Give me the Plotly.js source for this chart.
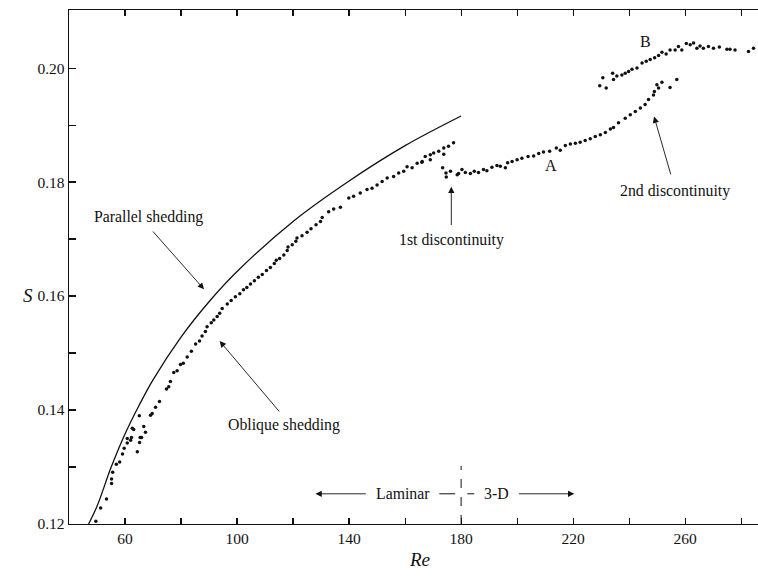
<!DOCTYPE html>
<html>
<head>
<meta charset="utf-8">
<script src="https://cdn.plot.ly/plotly-3.0.1.min.js"></script>
<style>html,body{margin:0;padding:0;background:#fff;}#chart{width:758px;height:577px;}</style>
</head>
<body>
<div id="chart"></div>
<script>
// Parallel shedding curve
var reParallel = [47.0, 50, 55, 60, 65, 70, 80, 90, 100, 120, 140, 160, 180];
var sParallel  = [0.1200, 0.1231, 0.1299, 0.1358, 0.1408, 0.1453, 0.1528, 0.1590, 0.1643, 0.1731, 0.1802, 0.1864, 0.1916];

// Measured points: oblique shedding and the branch after the 1st discontinuity
var reLower = [49.2, 49.4, 49.6, 51.3, 53.4, 55.2, 55.2, 55.6, 56.9, 58.1, 59.1, 59.7, 60.8, 60.8, 62.0, 62.3, 62.6, 63.1, 64.4, 65.1, 65.2, 65.4, 65.9, 66.7, 67.3, 69.1, 69.7, 70.9, 72.3, 74.8, 75.6, 76.2, 77.4, 78.6, 79.8, 80.8, 82.2, 83.7, 85.2, 86.6, 87.5, 88.7, 89.3, 90.8, 91.7, 92.9, 93.8,
  94.7, 96.5, 97.9, 99.4, 101.0, 102.3, 103.5, 104.8, 106.2, 107.6, 109.0, 110.5, 111.9, 113.3, 114.0, 115.2, 116.7, 117.9, 118.2, 119.7, 121.0, 121.4, 123.2, 125.0, 126.4, 128.2, 129.8,
  130.4, 132.7, 134.5, 136.9, 139.9, 141.6, 144.0, 146.4, 148.2, 150.0, 151.8, 153.6, 155.9, 157.7, 159.5, 160.7, 162.5, 164.3, 166.1, 166.0, 167.2, 169.0, 169.0, 170.2, 172.0, 173.8, 173.8, 175.5, 177.3,
  173.4, 174.6, 174.7, 176.2, 178.6, 179.1, 180.3, 181.5, 183.3, 184.7, 186.2, 188.0, 189.2, 191.0, 192.8, 194.0, 195.8, 196.6, 198.2, 200.0, 201.7, 203.9, 205.9, 207.7, 209.4, 211.6, 214.0, 215.4, 217.2, 219.0, 220.8, 222.5, 224.3, 226.1, 227.9, 229.7, 231.5, 233.3, 234.4, 236.2, 238.6, 240.4, 242.2, 244.0, 245.7, 246.9, 248.7, 249.0, 249.9, 250.5, 251.7, 254.6, 257.0];
var sLower = [0.1182, 0.1198, 0.1205, 0.1228, 0.1244, 0.1271, 0.1279, 0.1291, 0.1305, 0.1309, 0.1323, 0.1333, 0.1342, 0.1350, 0.1347, 0.1352, 0.1368, 0.1366, 0.1327, 0.1390, 0.1343, 0.1352, 0.1352, 0.1371, 0.1361, 0.1391, 0.1394, 0.1405, 0.1415, 0.1437, 0.1441, 0.1450, 0.1466, 0.1469, 0.1480, 0.1482, 0.1493, 0.1503, 0.1516, 0.1521, 0.1530, 0.1538, 0.1546, 0.1553, 0.1558, 0.1564, 0.1570,
  0.1578, 0.1586, 0.1592, 0.1599, 0.1604, 0.1611, 0.1615, 0.1621, 0.1627, 0.1633, 0.1638, 0.1645, 0.1650, 0.1657, 0.1663, 0.1666, 0.1672, 0.1680, 0.1686, 0.1690, 0.1696, 0.1702, 0.1706, 0.1712, 0.1718, 0.1725, 0.1731,
  0.1738, 0.1748, 0.1753, 0.1756, 0.1772, 0.1775, 0.1781, 0.1787, 0.1789, 0.1795, 0.1801, 0.1807, 0.1810, 0.1816, 0.1819, 0.1827, 0.1825, 0.1833, 0.1836, 0.1835, 0.1845, 0.1848, 0.1839, 0.1851, 0.1854, 0.1860, 0.1849, 0.1863, 0.1869,
  0.1825, 0.1816, 0.1809, 0.1819, 0.1813, 0.1815, 0.1822, 0.1817, 0.1815, 0.1819, 0.1817, 0.1822, 0.1820, 0.1826, 0.1829, 0.1828, 0.1825, 0.1834, 0.1836, 0.1839, 0.1842, 0.1845, 0.1846, 0.1850, 0.1853, 0.1854, 0.1860, 0.1856, 0.1864, 0.1867, 0.1868, 0.1870, 0.1873, 0.1876, 0.1880, 0.1883, 0.1887, 0.1893, 0.1896, 0.1904, 0.1912, 0.1918, 0.1924, 0.1930, 0.1936, 0.1945, 0.1953, 0.1959, 0.1971, 0.1965, 0.1975, 0.1966, 0.1980];

// Branch B after the 2nd discontinuity
var reUpper = [229.5, 230.6, 231.8, 234.1, 234.4, 235.6, 237.4, 238.6, 239.8, 241.0, 242.8, 244.6, 246.1, 247.5, 249.1, 250.5, 251.7, 253.2, 254.6, 256.4, 257.6, 258.8, 260.4, 261.8, 263.0, 264.2, 265.3, 266.5, 268.3, 270.1, 272.2, 274.9, 276.0, 277.8, 282.6, 284.4];
var sUpper  = [0.1969, 0.1983, 0.1965, 0.1991, 0.1980, 0.1986, 0.1988, 0.1991, 0.1994, 0.1998, 0.2000, 0.2009, 0.2012, 0.2015, 0.2018, 0.2022, 0.2028, 0.2025, 0.2032, 0.2032, 0.2038, 0.2032, 0.2043, 0.2041, 0.2044, 0.2035, 0.2039, 0.2035, 0.2038, 0.2035, 0.2037, 0.2033, 0.2033, 0.2032, 0.2029, 0.2035];

// Tick labels
var xTickVals = [60, 80, 100, 120, 140, 160, 180, 200, 220, 240, 260, 280];
var xTickText = ['60', '', '100', '', '140', '', '180', '', '220', '', '260', ''];
var yTickVals = [0.12, 0.13, 0.14, 0.15, 0.16, 0.17, 0.18, 0.19, 0.20];
var yTickText = ['0.12', '', '0.14', '', '0.16', '', '0.18', '', '0.20'];

var serif = '"Liberation Serif", "DejaVu Serif", serif';
var ink = '#111';
var annSize = 15.8;

var traces = [
  {x: reParallel, y: sParallel, mode: 'lines', line: {color: ink, width: 1.3, shape: 'spline'}, name: 'Parallel shedding', hoverinfo: 'skip'},
  {x: reLower, y: sLower, mode: 'markers', marker: {color: ink, size: 3.5}, cliponaxis: false, name: 'Oblique shedding'},
  {x: reUpper, y: sUpper, mode: 'markers', marker: {color: ink, size: 3.5}, cliponaxis: false, name: 'B'}
];

function arrow(hx, hy, tx, ty) {
  return {x: hx, y: hy, ax: tx, ay: ty, xref: 'x', yref: 'y', axref: 'x', ayref: 'y', text: '', showarrow: true,
          arrowhead: 2, arrowsize: 1.4, arrowwidth: 0.9, arrowcolor: ink, standoff: 0, startstandoff: 0};
}
function label(x, y, t, sz) {
  return {x: x, y: y, xref: 'x', yref: 'y', text: t, showarrow: false, xanchor: 'center', yanchor: 'middle',
          font: {family: serif, size: sz || annSize, color: ink}};
}

var layout = {
  width: 758, height: 577,
  margin: {l: 69, r: 0, t: 10, b: 53},
  paper_bgcolor: '#fff', plot_bgcolor: '#fff',
  showlegend: false,
  font: {family: serif, size: 15.5, color: ink},
  xaxis: {range: [40, 286], tickvals: xTickVals, ticktext: xTickText, ticks: 'inside', ticklen: 6, tickwidth: 1.2, tickcolor: ink,
          showline: true, linecolor: ink, linewidth: 1.4, mirror: 'ticks', showgrid: false, zeroline: false,
          tickfont: {family: serif, size: 15.5, color: ink}},
  yaxis: {range: [0.12, 0.2102], tickvals: yTickVals, ticktext: yTickText, ticks: 'inside', ticklen: 7, tickwidth: 1.2, tickcolor: ink,
          showline: true, linecolor: ink, linewidth: 1.4, showgrid: false, zeroline: false,
          tickfont: {family: serif, size: 15.5, color: ink}},
  annotations: [
    label(68.5, 0.1738, 'Parallel shedding'),
    arrow(88.2, 0.1612, 69.5, 0.1716),
    label(116.9, 0.1374, 'Oblique shedding'),
    arrow(93.8, 0.1521, 115.5, 0.1395),
    label(176.5, 0.1699, '1st discontinuity'),
    arrow(176.5, 0.1792, 176.5, 0.1722),
    label(212.2, 0.1830, 'A', 16),
    label(245.7, 0.2046, 'B', 16),
    label(256.4, 0.1785, '2nd discontinuity'),
    arrow(248.9, 0.1915, 255.0, 0.1811),
    label(159.4, 0.1253, 'Laminar'),
    arrow(128.0, 0.1253, 146.5, 0.1253),
    label(192.7, 0.1253, '3-D'),
    arrow(220.4, 0.1253, 200.1, 0.1253),
    {x: -0.0595, y: 0.4455, xref: 'paper', yref: 'paper', text: '<i>S</i>', showarrow: false, xanchor: 'center', yanchor: 'middle',
     font: {family: serif, size: 19, color: ink}},
    {x: 0.509, y: -0.070, xref: 'paper', yref: 'paper', text: '<i>Re</i>', showarrow: false, xanchor: 'center', yanchor: 'middle',
     font: {family: serif, size: 19, color: ink}}
  ],
  shapes: [
    {type: 'line', xref: 'x', yref: 'y', x0: 180, x1: 180, y0: 0.12, y1: 0.1302, line: {color: ink, width: 1, dash: 'dash'}},
    {type: 'line', xref: 'x', yref: 'y', x0: 172.2, x1: 177.9, y0: 0.1253, y1: 0.1253, line: {color: ink, width: 1}},
    {type: 'line', xref: 'x', yref: 'y', x0: 182.2, x1: 184.7, y0: 0.1253, y1: 0.1253, line: {color: ink, width: 1}}
  ]
};

Plotly.newPlot('chart', traces, layout, {staticPlot: true, displayModeBar: false});
</script>
</body>
</html>
